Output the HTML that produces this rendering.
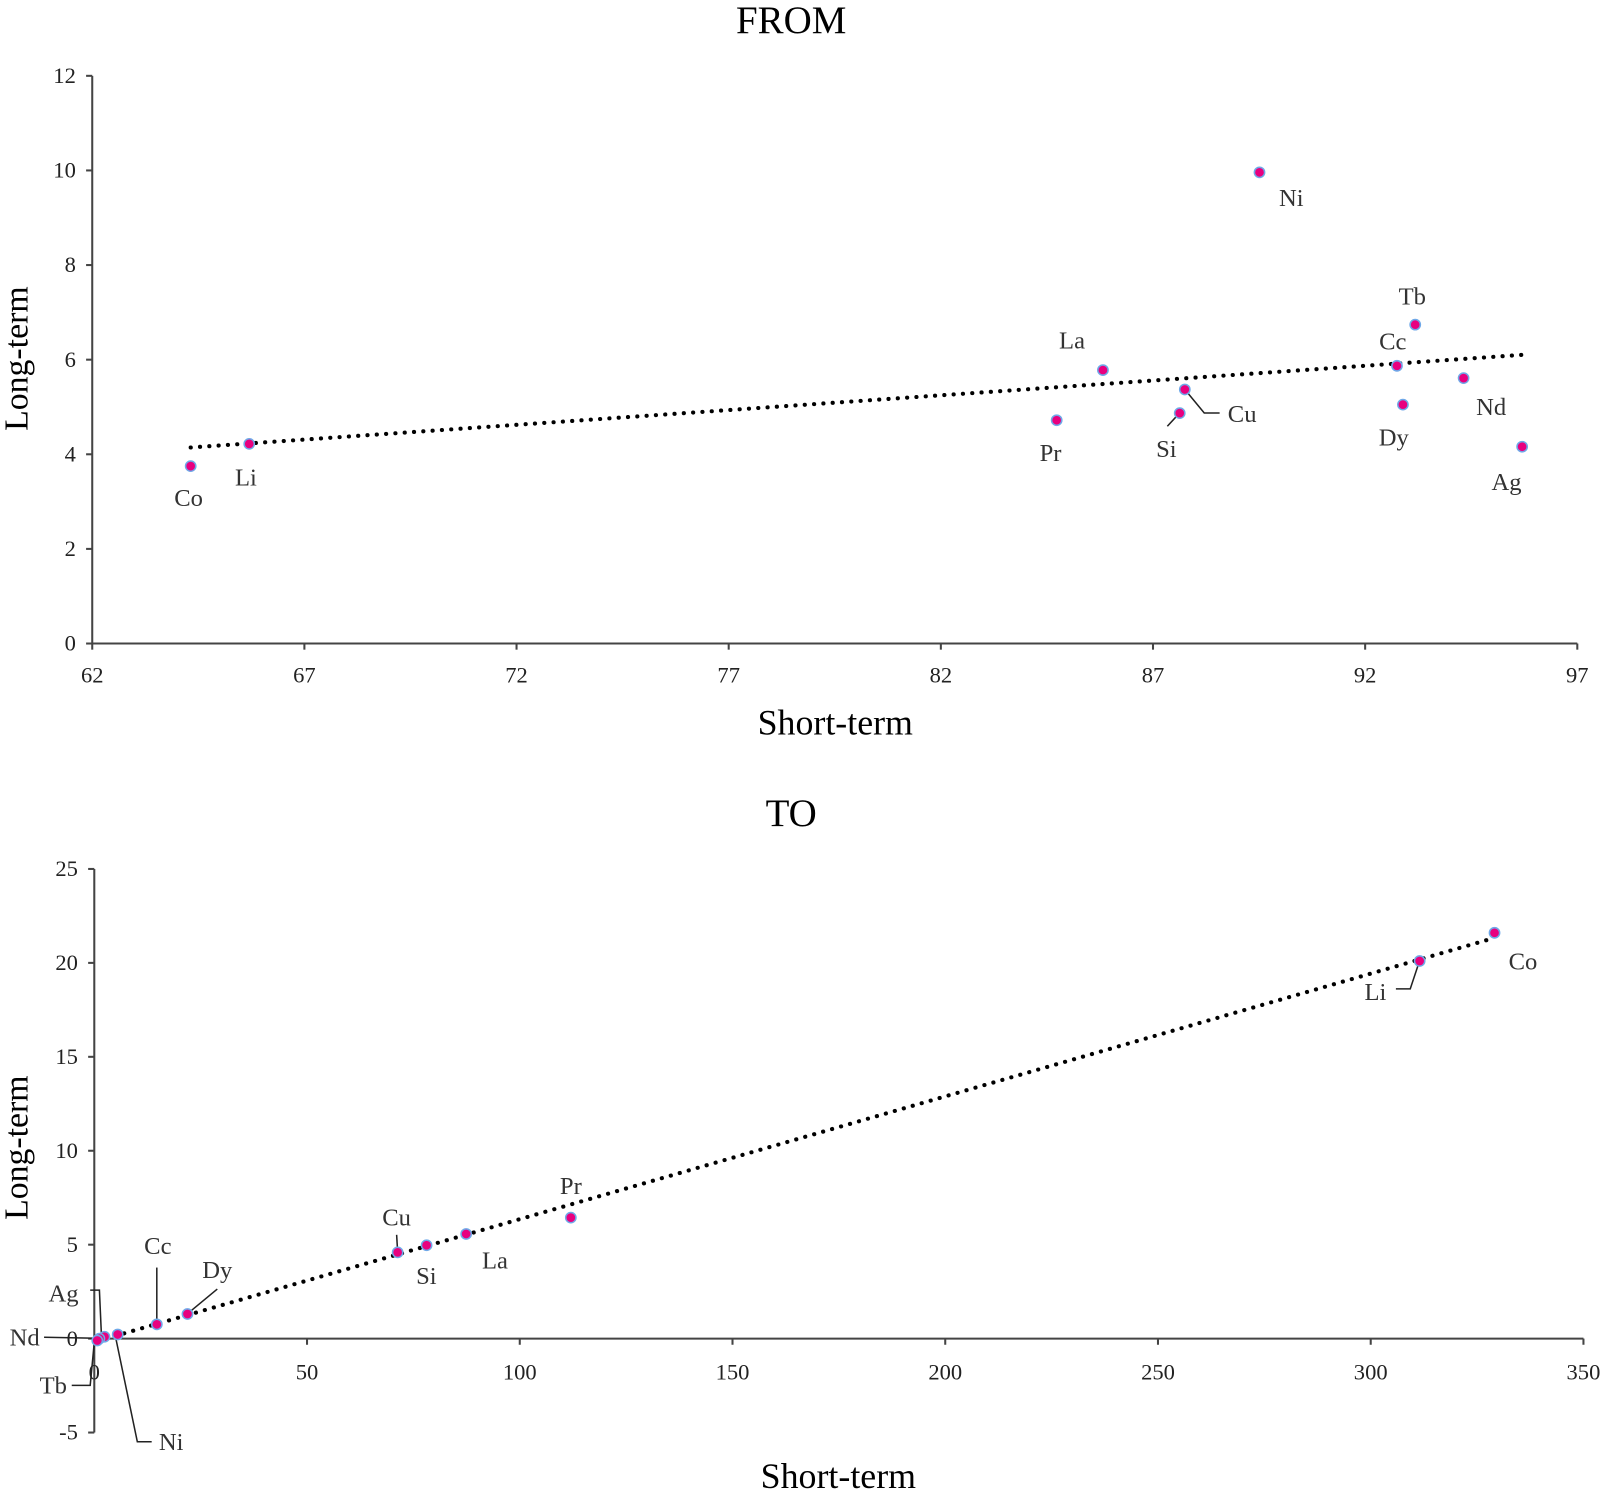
<!DOCTYPE html>
<html><head><meta charset="utf-8"><style>
html,body{margin:0;padding:0;background:#fff;}
svg{display:block;font-family:"Liberation Serif",serif;}
</style></head><body>
<svg id="chart" width="1606" height="1493" viewBox="0 0 1567 1457" preserveAspectRatio="none" xmlns="http://www.w3.org/2000/svg">
<g id="top"></g>
<g id="bot"></g>
</svg>
<script>
// FROM chart data
const fromNames = ["Co","Li","Pr","La","Si","Cu","Ni","Cc","Tb","Dy","Nd","Ag"];
const fromShort = [64.32,65.7,84.73,85.82,87.63,87.75,89.51,92.75,93.18,92.89,94.32,95.7];
const fromLong = [3.75,4.22,4.72,5.78,4.87,5.37,9.96,5.87,6.74,5.05,5.61,4.16];
const fromXTicks = [62,67,72,77,82,87,92,97];
const fromYTicks = [0,2,4,6,8,10,12];
// TO chart data
const toNames = ["Co","Li","Pr","La","Si","Cu","Dy","Cc","Ni","Ag","Nd","Tb"];
const toShort = [329.1,311.5,112,87.4,78.1,71.3,21.9,14.7,5.5,2.4,1.2,0.7];
const toLong = [21.6,20.1,6.44,5.57,4.97,4.59,1.31,0.76,0.22,0.1,0,-0.1];
const toXTicks = [0,50,100,150,200,250,300,350];
const toYTicks = [-5,0,5,10,15,20,25];

const NS="http://www.w3.org/2000/svg";
function mk(parent,tag,attrs,text){const e=document.createElementNS(NS,tag);for(const k in attrs)e.setAttribute(k,attrs[k]);if(text!==undefined)e.textContent=text;parent.appendChild(e);return e;}
function lin(d0,d1,r0,r1){return v=>r0+(v-d0)*(r1-r0)/(d1-d0);}
function regress(xs,ys){const n=xs.length;let mx=0,my=0;xs.forEach((x,i)=>{mx+=x;my+=ys[i];});mx/=n;my/=n;let sxy=0,sxx=0;xs.forEach((x,i)=>{sxy+=(x-mx)*(ys[i]-my);sxx+=(x-mx)*(x-mx);});const b=sxy/sxx;return [my-b*mx,b];}

function drawChart(g,opt){
  const X=lin(opt.xd[0],opt.xd[1],opt.xr[0],opt.xr[1]);
  const Y=lin(opt.yd[0],opt.yd[1],opt.yr[0],opt.yr[1]);
  const ax="#444";
  const t=mk(g,'text',{x:772,y:opt.titleY,'text-anchor':'middle','font-size':38,fill:'#000'},opt.title);
  
  
  const yl=mk(g,'text',{x:0,y:0,'text-anchor':'middle','font-size':33,fill:'#000',transform:`translate(27,${opt.yTitleY}) rotate(-90)`},'Long-term');
  
  
  const xl=mk(g,'text',{x:opt.xTitleX,y:opt.xTitleY,'text-anchor':'middle','font-size':35,fill:'#000'},'Short-term');
  
  
  const xAxisY=Y(opt.xAxisAt);
  const ya=mk(g,'line',{x1:opt.xr[0],x2:opt.xr[0],y1:opt.yr[0],y2:opt.yr[1],stroke:ax,'stroke-width':2});
  
  
  const xa=mk(g,'line',{x1:opt.xr[0],x2:opt.xr[1],y1:xAxisY,y2:xAxisY,stroke:ax,'stroke-width':2});
  
  
  opt.yTicks.forEach(v=>{
    const ty=Y(v);
    mk(g,'line',{x1:opt.xr[0]-6,x2:opt.xr[0],y1:ty,y2:ty,stroke:ax,'stroke-width':2});
    const l=mk(g,'text',{x:opt.xr[0]-16,y:ty+7,'text-anchor':'end','font-size':22,fill:'#222'},String(v));
    
    
  });
  opt.xTicks.forEach(v=>{
    const tx=X(v);
    mk(g,'line',{x1:tx,x2:tx,y1:xAxisY,y2:xAxisY+6,stroke:ax,'stroke-width':2});
    const l=mk(g,'text',{x:tx,y:xAxisY+opt.xLabOff,'text-anchor':'middle','font-size':22,fill:'#222'},String(v));
    
    
  });
  const [a,b]=regress(opt.xs,opt.ys);
  const x0=Math.min(...opt.xs),x1=Math.max(...opt.xs);
  const tl=mk(g,'line',{x1:X(x0),y1:Y(a+b*x0),x2:X(x1),y2:Y(a+b*x1),stroke:'#000','stroke-width':4,'stroke-dasharray':'0.1 9','stroke-linecap':'round'});
  
  
  opt.leaders.forEach(p=>{mk(g,'polyline',{points:p,fill:'none',stroke:'#222','stroke-width':1.5});});
  opt.xs.forEach((xv,i)=>{
    const c=mk(g,'circle',{cx:X(xv),cy:Y(opt.ys[i]),r:5,fill:'#e8007f',stroke:'#6fa8e8','stroke-width':1.5});
    
    
  });
  opt.names.forEach((n,i)=>{
    const p=opt.labels[n];
    const l=mk(g,'text',{x:p[0],y:p[1]+8,'text-anchor':'middle','font-size':24,fill:'#333'},n);
    
    
  });
}

drawChart(document.getElementById('top'),{
  title:'FROM',titleY:32,yTitleY:350,xTitleX:815,xTitleY:717,
  xd:[62,97],xr:[90,1539],yd:[0,12],yr:[628,74],xAxisAt:0,xLabOff:38,
  xTicks:fromXTicks,yTicks:fromYTicks,xs:fromShort,ys:fromLong,names:fromNames,
  labels:{Co:[184,486],Li:[240,466],Pr:[1025,442],La:[1046,332],Si:[1138,438],Cu:[1212,404],Ni:[1260,193],Cc:[1359,333],Tb:[1378,289],Dy:[1360,427],Nd:[1455,397],Ag:[1470,470]},
  leaders:["1156,380 1175,403 1190,403","1151,403 1139,416"]
});
drawChart(document.getElementById('bot'),{
  title:'TO',titleY:806,yTitleY:1120,xTitleX:818,xTitleY:1452,
  xd:[0,350],xr:[92,1545],yd:[-5,25],yr:[1398,848],xAxisAt:0,xLabOff:40,
  xTicks:toXTicks,yTicks:toYTicks,xs:toShort,ys:toLong,names:toNames,
  labels:{Co:[1486,938],Li:[1342,968],Pr:[557,1157],La:[483,1230],Si:[416,1245],Cu:[387,1188],Dy:[212,1239],Cc:[154,1216],Ag:[62,1262],Nd:[24,1305],Tb:[52,1352],Ni:[167,1407]},
  leaders:["1385,938 1376,965 1362,965","388,1222 387,1205","153,1292 153,1237","183,1282 212,1258","88,1259 97,1259 99,1304","43,1305 95,1306","70,1352 88,1352 92,1310","148,1407 134,1407 113,1306"]
});
</script>
</body></html>
